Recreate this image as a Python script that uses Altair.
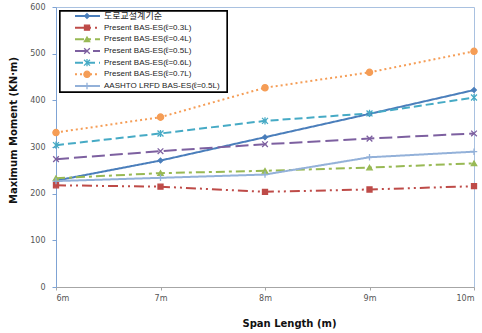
import altair as alt
import pandas as pd

# Span lengths (m) and maximum moment (kN·m) per design method
spans = [6, 7, 8, 9, 10]
series_names = [
    "도로교설계기준",
    "Present BAS-ES(ℓ=0.3L)",
    "Present BAS-ES(ℓ=0.4L)",
    "Present BAS-ES(ℓ=0.5L)",
    "Present BAS-ES(ℓ=0.6L)",
    "Present BAS-ES(ℓ=0.7L)",
    "AASHTO LRFD BAS-ES(ℓ=0.5L)",
]
road_bridge = [228, 271, 321, 371, 422]
bas_03 = [218, 215, 204, 209, 216]
bas_04 = [233, 244, 249, 256, 265]
bas_05 = [274, 291, 306, 318, 329]
bas_06 = [304, 329, 356, 372, 406]
bas_07 = [331, 364, 427, 460, 505]
aashto_05 = [227, 234, 241, 278, 290]
all_values = [road_bridge, bas_03, bas_04, bas_05, bas_06, bas_07, aashto_05]

colors = ["#4A7EBB", "#BE4B48", "#98B954", "#7D60A0", "#46AAC5", "#F59D56", "#93B1D9"]
dashes = [[1, 0], [10, 4, 2, 4, 2, 4], [9, 4, 3, 4], [13, 5], [8, 4], [2, 3], [1, 0]]
shapes = [
    "diamond",
    "square",
    "triangle-up",
    "M-1,-1L1,1M-1,1L1,-1",
    "M-1,-1L1,1M-1,1L1,-1M0,-1.2L0,1.2",
    "circle",
    "M-1,0L1,0M0,-1L0,1",
]
sizes = [22, 42, 50, 40, 40, 42, 30]

rows = []
for name, vals in zip(series_names, all_values):
    for s, v in zip(spans, vals):
        rows.append({"series": name, "span": s, "moment": v})
df = pd.DataFrame(rows)

legend_df = pd.DataFrame({"series": series_names, "row": list(range(len(series_names)))})

color_scale = alt.Scale(domain=series_names, range=colors)
dash_scale = alt.Scale(domain=series_names, range=dashes)
shape_scale = alt.Scale(domain=series_names, range=shapes)
size_scale = alt.Scale(domain=series_names, range=sizes)

x_enc = alt.X(
    "span:Q",
    scale=alt.Scale(domain=[6, 10], nice=False, zero=False),
    axis=alt.Axis(
        values=spans,
        labelExpr="datum.value + 'm'",
        title="Span Length  (m)",
        titleX=233,
        titleY=31,
        titleBaseline="top",
        grid=False,
        domainColor="#A6A6A6",
        tickColor="#A6A6A6",
        tickSize=3,
        labelPadding=4,
    ),
)
y_enc = alt.Y(
    "moment:Q",
    scale=alt.Scale(domain=[0, 600], nice=False),
    axis=alt.Axis(
        values=[0, 100, 200, 300, 400, 500, 600],
        title="Maximum Moment  (KN·m)",
        titleX=-43,
        titleY=123,
        titleAngle=-90,
        titleBaseline="middle",
        titleAlign="center",
        grid=False,
        domainColor="#7FA3D4",
        tickColor="#7FA3D4",
        tickSize=4,
        labelPadding=7,
    ),
)

base = alt.Chart(df)
lines = base.mark_line(strokeWidth=2).encode(
    x=x_enc,
    y=y_enc,
    color=alt.Color("series:N", scale=color_scale, legend=None),
    strokeDash=alt.StrokeDash("series:N", scale=dash_scale, legend=None),
    detail="series:N",
)
points = base.mark_point(filled=True, strokeWidth=1.3, opacity=1).encode(
    x=x_enc,
    y=y_enc,
    color=alt.Color("series:N", scale=color_scale, legend=None),
    stroke=alt.Stroke("series:N", scale=color_scale, legend=None),
    shape=alt.Shape("series:N", scale=shape_scale, legend=None),
    size=alt.Size("series:N", scale=size_scale, legend=None),
)
data_layer = alt.layer(lines, points)

# Boxed legend in the upper-left corner of the plot
row_y = alt.Y("row:Q", scale=alt.Scale(domain=[0, 6], range=[9, 79]), axis=None)
leg = alt.Chart(legend_df)
leg_box = leg.mark_rect(
    fill="white", stroke="black", strokeWidth=1.3
).encode(x=alt.value(4), x2=alt.value(171), y=alt.value(4), y2=alt.value(85))
leg_lines = leg.mark_rule(strokeWidth=2).encode(
    x=alt.value(19),
    x2=alt.value(44),
    y=row_y,
    color=alt.Color("series:N", scale=color_scale, legend=None),
    strokeDash=alt.StrokeDash("series:N", scale=dash_scale, legend=None),
)
leg_points = leg.mark_point(filled=True, strokeWidth=1.3, opacity=1).encode(
    x=alt.value(31),
    y=row_y,
    color=alt.Color("series:N", scale=color_scale, legend=None),
    stroke=alt.Stroke("series:N", scale=color_scale, legend=None),
    shape=alt.Shape("series:N", scale=shape_scale, legend=None),
    size=alt.Size("series:N", scale=size_scale, legend=None),
)
leg_text_kr = leg.transform_filter("datum.row == 0").mark_text(
    align="left", baseline="middle", font="Noto Sans CJK KR", fontSize=9, color="#222222"
).encode(x=alt.value(48), y=row_y, text="series:N")
leg_text = leg.transform_filter("datum.row > 0").mark_text(
    align="left", baseline="middle", font="Liberation Sans", fontSize=8, color="#222222"
).encode(x=alt.value(48), y=row_y, text="series:N")
legend_layer = alt.layer(leg_box, leg_lines, leg_points, leg_text_kr, leg_text)

chart = (
    alt.layer(data_layer, legend_layer)
    .resolve_scale(y="independent")
    .properties(
        width=418,
        height=280,
        autosize=alt.AutoSizeParams(type="none"),
        padding={"left": 56, "top": 7, "right": 8, "bottom": 46},
    )
    .configure_view(stroke="#A9C1E0", strokeWidth=1)
    .configure_axis(
        labelFont="DejaVu Sans",
        labelFontSize=8,
        labelColor="#555555",
        titleFont="DejaVu Sans",
        titleFontSize=10,
        titleFontWeight="bold",
        titleColor="#111111",
    )
)

chart.save("out.html", embed_options={"renderer": "svg", "actions": False})
